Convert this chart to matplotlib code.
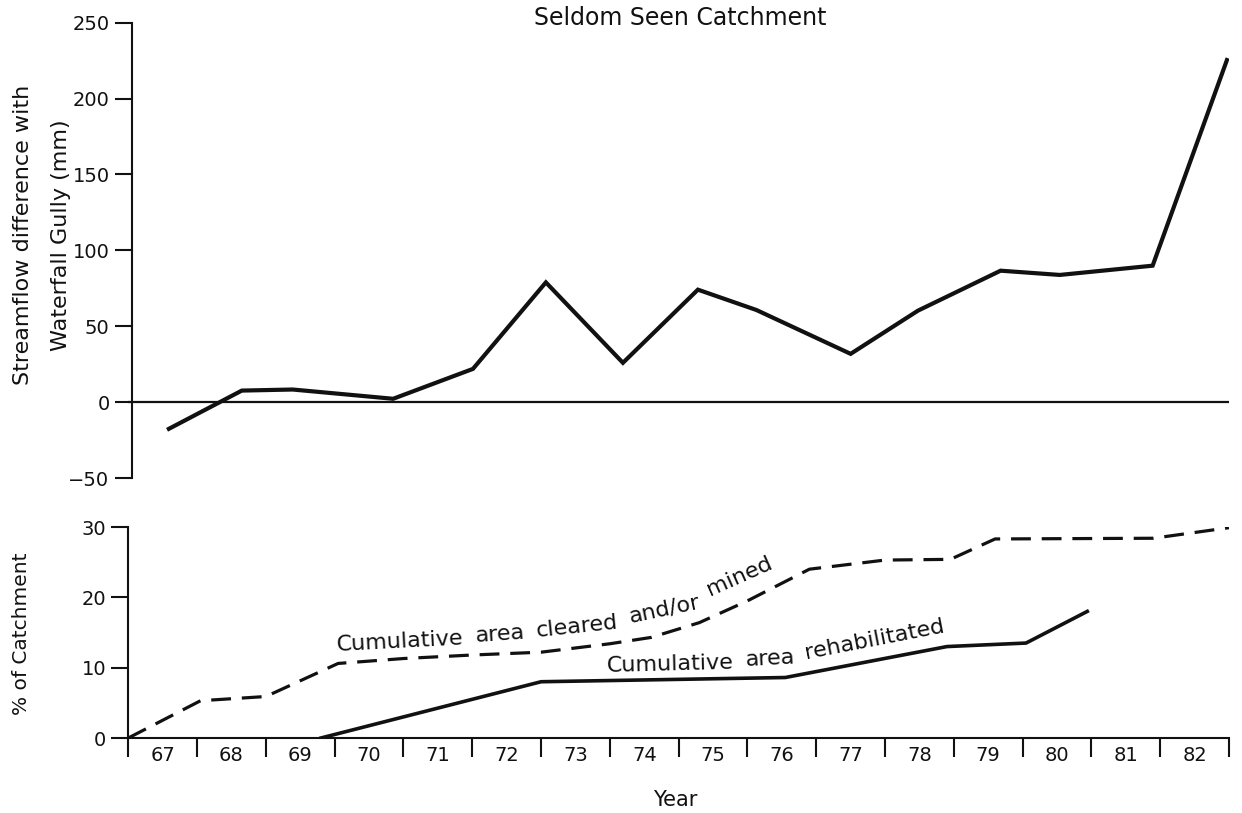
import math
import matplotlib
matplotlib.use("Agg")
import matplotlib.pyplot as plt
from matplotlib.font_manager import FontProperties

# Streamflow difference (mm), Seldom Seen vs Waterfall Gully
flow_years = [67.59, 68.65, 69.39, 70.85, 72.01, 73.07, 74.19, 75.28, 76.13,
              77.50, 78.48, 79.68, 80.54, 81.89, 82.97]
flow_diff = [-17.6, 7.6, 8.3, 2.2, 21.9, 78.9, 25.9, 74.1, 60.7,
             31.8, 60.3, 86.6, 83.8, 89.9, 225.4]

# Cumulative area cleared and/or mined (% of catchment)
cleared_years = [67.0, 68.05, 69.0, 70.05, 71.0, 72.0, 73.0, 74.0, 74.6, 75.3,
                 76.0, 76.9, 78.0, 78.95, 79.6, 81.9, 83.0]
cleared_pct = [0.0, 5.3, 5.9, 10.6, 11.3, 11.8, 12.2, 13.4, 14.3, 16.4,
               19.5, 24.0, 25.3, 25.4, 28.3, 28.4, 29.9]

# Cumulative area rehabilitated (% of catchment)
rehab_years = [69.8, 73.0, 76.55, 78.9, 80.05, 80.94]
rehab_pct = [0.0, 8.0, 8.6, 13.0, 13.5, 18.0]

year_labels = [str(y) for y in range(67, 83)]
flow_ticks = [-50, 0, 50, 100, 150, 200, 250]
pct_ticks = [0, 10, 20, 30]

plt.rcParams['font.family'] = ['DejaVu Sans']
ink = '#111111'

W, H = 1242, 813
fig = plt.figure(figsize=(W / 100, H / 100), dpi=100)

x0, x1 = 128.3, 1229
ax1 = fig.add_axes([x0 / W, 1 - 478 / H, (x1 - x0) / W, (478 - 22.7) / H])
ax2 = fig.add_axes([x0 / W, 1 - 738 / H, (x1 - x0) / W, (738 - 527) / H])

# --- top panel: streamflow difference ---
ax1.set_xlim(67, 83)
ax1.set_ylim(-50, 250)
for s in ('top', 'right', 'bottom'):
    ax1.spines[s].set_visible(False)
ax1.spines['left'].set_position(('data', 67.05))
ax1.spines['left'].set_linewidth(1.5)
ax1.spines['left'].set_color(ink)
ax1.set_xticks([])
ax1.set_yticks(flow_ticks)
ax1.tick_params(axis='y', direction='out', length=12, width=1.5,
                labelsize=14, colors=ink, pad=4)
ax1.axhline(0, color=ink, lw=1.6)
ax1.plot(flow_years, flow_diff, color=ink, lw=3.0, solid_joinstyle='miter')

# --- bottom panel: catchment areas ---
ax2.set_xlim(67, 83)
ax2.set_ylim(0, 30)
for s in ('top', 'right'):
    ax2.spines[s].set_visible(False)
for s in ('left', 'bottom'):
    ax2.spines[s].set_linewidth(1.5)
    ax2.spines[s].set_color(ink)
ax2.set_yticks(pct_ticks)
ax2.tick_params(axis='y', direction='out', length=12, width=1.5,
                labelsize=14, colors=ink, pad=4)
ax2.set_xticks(range(67, 84))
ax2.set_xticklabels([])
ax2.set_xticks([y + 0.5 for y in range(67, 83)], minor=True)
ax2.set_xticklabels(year_labels, minor=True)
ax2.tick_params(axis='x', which='major', direction='out', length=14,
                width=1.5, colors=ink)
ax2.tick_params(axis='x', which='minor', length=0, labelsize=14,
                colors=ink, pad=6)

ax2.plot(cleared_years, cleared_pct, color=ink, lw=2.3,
         linestyle=(0, (6.2, 3.4)))
ax2.plot(rehab_years, rehab_pct, color=ink, lw=2.6)


def words_along(ax, start, words, size=16, gap=12):
    """Lay words one after another, each tilted to follow its curve."""
    renderer = fig.canvas.get_renderer()
    prop = FontProperties(size=size)
    px, py = ax.transData.transform(start)
    for i, (word, rot) in enumerate(words):
        ax.text(px, py, word, transform=None, fontproperties=prop, color=ink,
                rotation=rot, rotation_mode='anchor', ha='left',
                va='baseline')
        w, _, _ = renderer.get_text_width_height_descent(word, prop, ismath=False)
        nxt = words[i + 1][1] if i + 1 < len(words) else rot
        ang = math.radians(0.5 * (rot + nxt))
        step = w + gap
        px += step * math.cos(ang)
        py += step * math.sin(ang)


words_along(ax2, (70.03, 12.4),
            [("Cumulative", 3), ("area", 4), ("cleared", 6),
             ("and/or", 12), ("mined", 24)])
words_along(ax2, (73.95, 9.4),
            [("Cumulative", 1.5), ("area", 3), ("rehabilitated", 11)])

# titles and axis labels
fig.text(680 / W, 1 - 18 / H, "Seldom Seen Catchment", fontsize=17,
         color=ink, ha='center', va='center')
fig.text(42 / W, 1 - 235 / H, "Streamflow difference with\nWaterfall Gully (mm)",
         fontsize=16, color=ink, rotation=90, ha='center', va='center',
         multialignment='center', linespacing=2.1)
fig.text(22 / W, 1 - 634 / H, "% of Catchment", fontsize=14.5, color=ink,
         rotation=90, ha='center', va='center')
fig.text(675 / W, 1 - 800 / H, "Year", fontsize=15, color=ink,
         ha='center', va='center')

fig.savefig("out.png", dpi=100, facecolor='white')
